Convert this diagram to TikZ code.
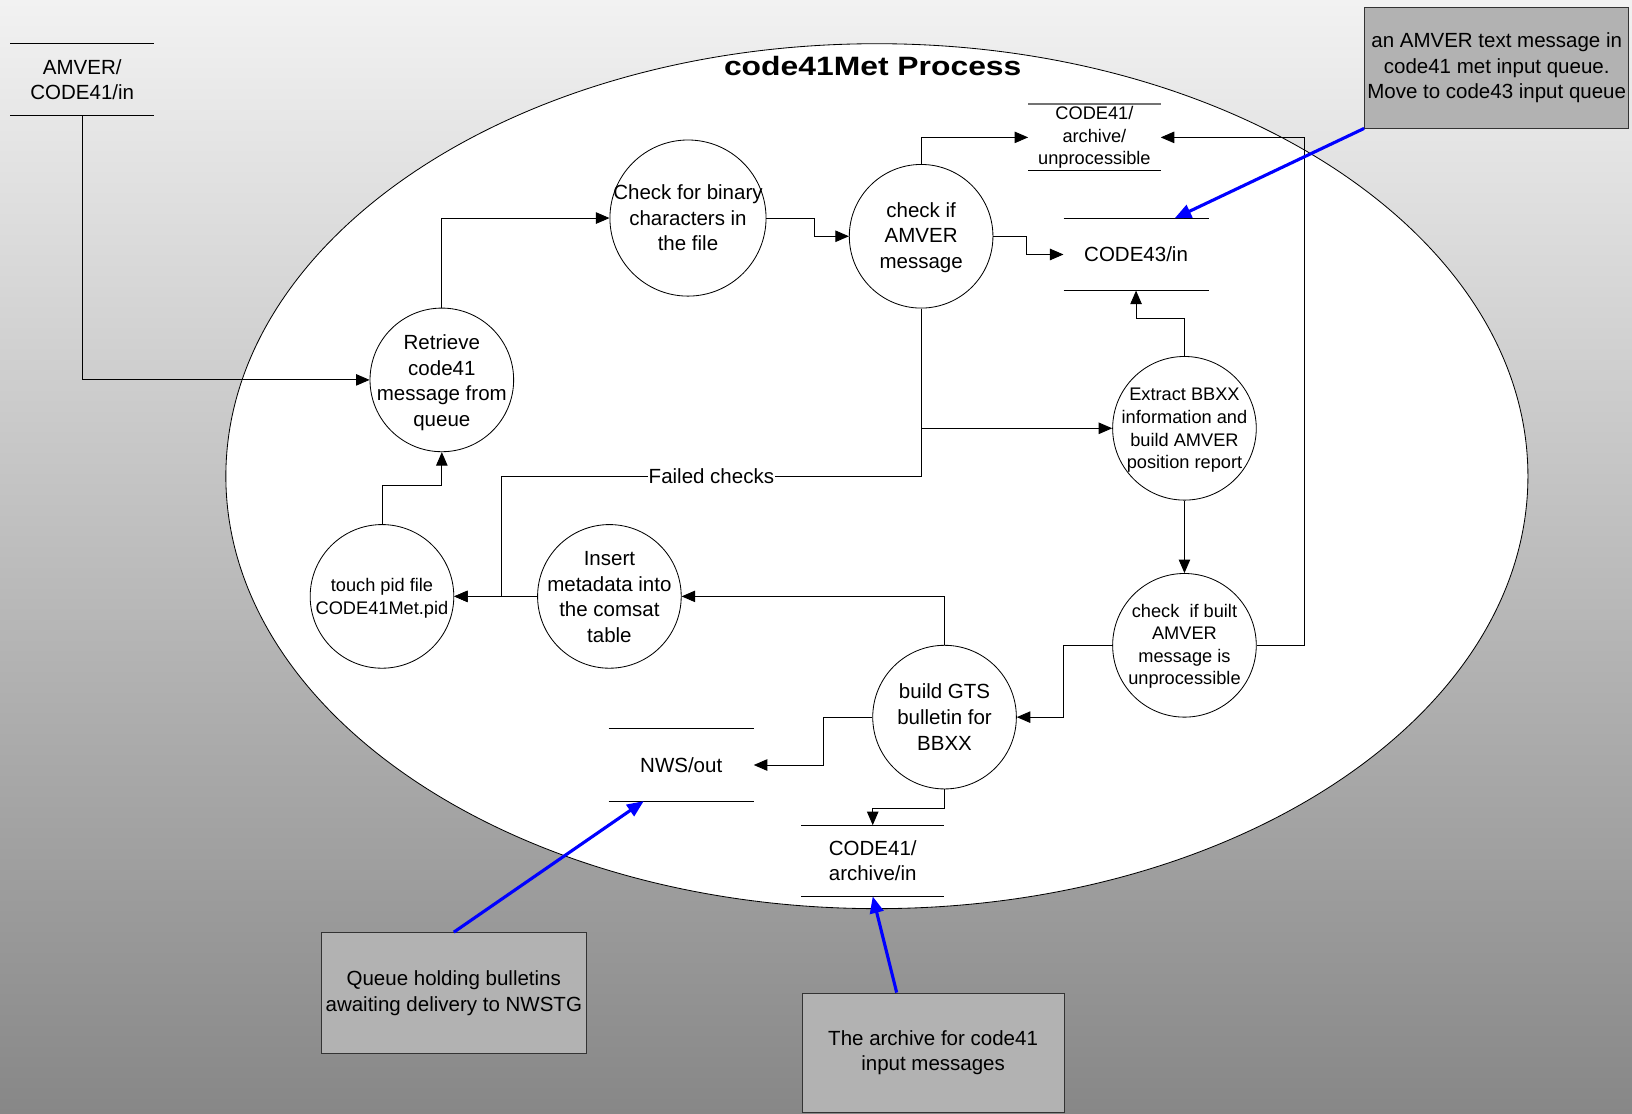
\documentclass[tikz,border=0pt]{standalone}
\usepackage{fontspec}
\usepackage{graphicx}
\setmainfont{Liberation Sans}
\usetikzlibrary{arrows.meta,calc}
\definecolor{boxgray}{RGB}{178,178,178}
\definecolor{bgtop}{RGB}{242,242,242}
\definecolor{bgbot}{RGB}{135,135,135}
\newcommand{\mytextfont}{\fontsize{19.7}{24.6}\selectfont}
\newcommand{\mysmallfont}{\fontsize{17.5}{21.7}\selectfont}
\newcommand{\mytitlefont}{\fontsize{25.5}{30}\selectfont\bfseries}
\begin{document}
\begin{tikzpicture}[x=1pt,y=-1pt,
  proc/.style={circle,draw,fill=white,line width=0.8pt,minimum size=138pt,inner sep=0pt},
  ptext/.style={inner sep=0pt,align=center,font=\mytextfont},
  store/.style={inner sep=0pt,align=center,font=\mytextfont},
  storeline/.style={draw=black,line width=0.9pt},
  arr/.style={draw=black,line width=0.9pt,-{Triangle[length=13pt,width=11pt]}},
  callout/.style={draw=black!80,fill=boxgray,line width=0.8pt,align=center,font=\mytextfont,inner sep=0pt},
  bluearr/.style={draw=blue,fill=blue,line width=3pt,-{Triangle[length=16pt,width=13pt]}},
  lbl/.style={fill=white,inner sep=1pt,font=\mytextfont}
]
\useasboundingbox (0,0) rectangle (1568,1070);
\shade[top color=bgtop,bottom color=bgbot] (0,0) rectangle (1568,1070);

% process boundary
\draw[fill=white,line width=0.8pt] (842.5,457.5) ellipse [x radius=625.5, y radius=415.5];
\node[font=\mytitlefont,inner sep=0pt] (title) at (838.5,63.5) {\scalebox{1.2}[1]{code41Met Process}};

% data stores
\node[store,minimum width=138pt,minimum height=69pt] (amv) at (79,76.5) {AMVER/\\CODE41/in};
\draw[storeline] (amv.north west) -- (amv.north east) (amv.south west) -- (amv.south east);
\node[store,font=\mysmallfont,minimum width=127pt,minimum height=64pt] (unp) at (1051.5,132) {CODE41/\\archive/\\unprocessible};
\draw[draw=black!55,line width=1.6pt] (unp.north west) -- (unp.north east);
\draw[storeline] (unp.south west) -- (unp.south east);
\node[store,minimum width=139pt,minimum height=69pt] (c43) at (1091.5,244.5) {CODE43/in};
\draw[storeline] (c43.north west) -- (c43.north east) (c43.south west) -- (c43.south east);
\node[store,minimum width=139pt,minimum height=69pt] (nws) at (654.5,735) {NWS/out};
\draw[storeline] (nws.north west) -- (nws.north east) (nws.south west) -- (nws.south east);
\node[store,minimum width=137pt,minimum height=68pt] (arcin) at (838.5,827) {CODE41/\\archive/in};
\draw[storeline] (arcin.north west) -- (arcin.north east) (arcin.south west) -- (arcin.south east);

% processes (fixed-size circles, text laid on top)
\node[proc] (ret) at (424.5,365) {};
\node[ptext] (ret-t) at ([yshift=-2.5pt]ret) {Retrieve\\code41\\message from\\queue};
\node[proc,minimum size=150pt] (bin) at (661,209.5) {};
\node[ptext] (bin-t) at (bin) {Check for binary\\characters in\\the file};
\node[proc] (amv2) at (885,227) {};
\node[ptext] (amv2-t) at ([yshift=-1pt]amv2) {check if\\AMVER\\message};
\node[proc] (ext) at (1138,411.5) {};
\node[ptext,font=\mysmallfont] (ext-t) at ([yshift=-2pt]ext) {Extract BBXX\\information and\\build AMVER\\position report};
\node[proc] (blt) at (1138,620) {};
\node[ptext,font=\mysmallfont] (blt-t) at ([yshift=-1pt]blt) {check\ \ if built\\AMVER\\message is\\unprocessible};
\node[proc] (gts) at (907.5,689) {};
\node[ptext] (gts-t) at (gts) {build GTS\\bulletin for\\BBXX};
\node[proc] (ins) at (585.5,573) {};
\node[ptext] (ins-t) at ([yshift=-0.5pt]ins) {Insert\\metadata into\\the comsat\\table};
\node[proc] (pid) at (367,573) {};
\node[ptext,font=\mysmallfont] (pid-t) at ([yshift=-2pt]pid) {touch pid file\\CODE41Met.pid};

% connectors
\draw[arr] (amv.south) |- (ret.west);
\draw[arr] (ret.north) |- (bin.west);
\draw[arr] (bin.east) -- ++(46,0) |- (amv2.west);
\draw[arr] (amv2.north) |- (unp.west);
\draw[arr] (amv2.east) -- ++(32,0) |- (c43.west);
\draw[arr] (amv2.south) |- (ext.west);
\draw[arr] (amv2.south) -- ++(0,161) -- node[lbl] (fc) {Failed checks} ++(-403,0) |- (pid.east);
\draw[arr] (ext.north) -- ++(0,-36) -| (c43.south);
\draw[arr] (ext.south) -- (blt.north);
\draw[arr] (blt.east) -- ++(46,0) |- (unp.east);
\draw[arr] (blt.west) -- ++(-47,0) |- (gts.east);
\draw[arr] (gts.north) |- (ins.east);
\draw[arr] (ins.west) -- (pid.east);
\draw[arr] (pid.north) -- ++(0,-37) -| (ret.south);
\draw[arr] (gts.west) -- ++(-47,0) |- (nws.east);
\draw[arr] (gts.south) -- ++(0,18) -| (arcin.north);

% callouts
\node[callout,minimum width=254pt,minimum height=115.5pt] (cA) at (1438,65.25) {an AMVER text message in\\code41 met input queue.\\Move to code43 input queue};
\node[callout,minimum width=254pt,minimum height=116pt] (cB) at (436,954) {Queue holding bulletins\\awaiting delivery to NWSTG};
\node[callout,minimum width=252pt,minimum height=115pt] (cC) at (896.5,1011.5) {The archive for code41\\input messages};
\draw[bluearr] (cA.south west) -- ([xshift=37pt]c43.north);
\draw[bluearr] (cB.north) -- ([xshift=-36pt]nws.south);
\draw[bluearr] ([xshift=-35pt]cC.north) -- (arcin.south);
\end{tikzpicture}
\end{document}
